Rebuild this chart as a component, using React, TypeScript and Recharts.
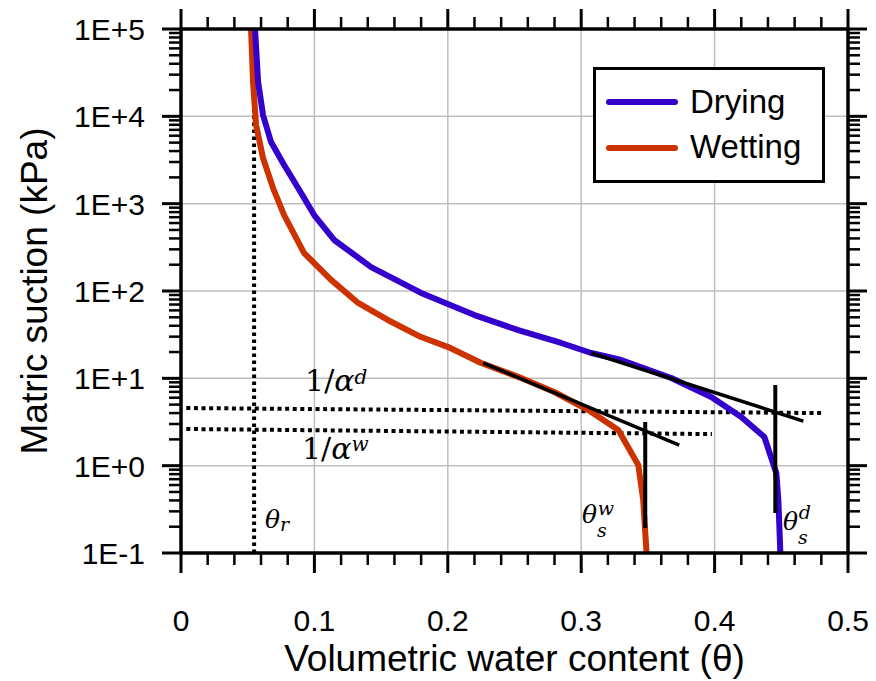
import React from "react";
import {
  ComposedChart,
  Line,
  XAxis,
  YAxis,
  CartesianGrid,
  Legend,
  ReferenceDot,
  Label,
} from "recharts";

// drying branch (theta, suction kPa)
const dryingTheta = [0.0555, 0.0578, 0.0615, 0.0675, 0.0773, 0.0878, 0.0998, 0.1148, 0.1425, 0.18, 0.22, 0.2528, 0.285, 0.3075, 0.33, 0.3675, 0.3975, 0.42, 0.4373, 0.4463, 0.4478, 0.4493];
const dryingSuction = [100000, 24700, 10350, 5080, 2770, 1510, 741, 384, 188, 95, 53, 35.7, 25.4, 19.5, 16.2, 10.1, 6.1, 3.6, 2.13, 0.82, 0.4, 0.1];

// wetting branch
const wettingTheta = [0.0525, 0.054, 0.0563, 0.0615, 0.069, 0.0773, 0.0923, 0.1125, 0.1328, 0.155, 0.18, 0.2003, 0.225, 0.2528, 0.2798, 0.3053, 0.3278, 0.3428, 0.3465, 0.349];
const wettingSuction = [100000, 24700, 7940, 3330, 1510, 741, 272, 134, 73, 46.6, 29.7, 22.8, 15, 10.4, 6.97, 4.34, 2.56, 1.02, 0.4, 0.1];

// construction lines
const wetTangentTheta = [0.2265, 0.3735];
const wetTangentSuction = [15, 1.72];
const dryTangentTheta = [0.3075, 0.4665];
const dryTangentSuction = [19.5, 3.24];
const wetSatTheta = [0.348, 0.348];
const wetSatSuction = [3.16, 0.193];
const drySatTheta = [0.4455, 0.4455];
const drySatSuction = [8.4, 0.287];
const alphaDTheta = [0.004, 0.4815];
const alphaDSuction = [4.57, 4.0];
const alphaWTheta = [0.004, 0.398];
const alphaWSuction = [2.63, 2.3];
const residualTheta = [0.0548, 0.0548];
const residualSuction = [0.1, 100000];

// axes
const thetaTicks = [0, 0.1, 0.2, 0.3, 0.4, 0.5];
const thetaMinorTicks = [0.02, 0.04, 0.06, 0.08, 0.12, 0.14, 0.16, 0.18, 0.22, 0.24, 0.26, 0.28, 0.32, 0.34, 0.36, 0.38, 0.42, 0.44, 0.46, 0.48];
const suctionTicks = [0.1, 1, 10, 100, 1000, 10000, 100000];
const suctionTickLabels = ["1E-1", "1E+0", "1E+1", "1E+2", "1E+3", "1E+4", "1E+5"];
const suctionMinorTicks: number[] = [];
suctionTicks.slice(0, -1).forEach((d) => {
  for (let m = 2; m <= 9; m++) suctionMinorTicks.push(m * d);
});

const seriesNames = ["Drying", "Wetting"];
const DRY = "#3300CC";
const WET = "#CC3300";
const FONT = "'Liberation Sans', Arial, sans-serif";
const MATH = "'DejaVu Serif', serif";

const zip = (xs: number[], ys: number[]) => xs.map((x, i) => ({ x, y: ys[i] }));

const isMajorTheta = (v: number) => Math.abs(v * 10 - Math.round(v * 10)) < 1e-9;
const isMajorSuction = (v: number) => suctionTicks.some((t) => Math.abs(t - v) / t < 1e-9);

const LeftTick = (props: any) => {
  const { x, y, payload } = props;
  const major = isMajorSuction(payload.value);
  const idx = suctionTicks.findIndex((t) => Math.abs(t - payload.value) / t < 1e-9);
  return (
    <g>
      <line x1={x - (major ? 19 : 12)} x2={x} y1={y} y2={y} stroke="#000" strokeWidth={major ? 3 : 2.5} />
      {major && (
        <text x={x - 36} y={y + 11} textAnchor="end" fontSize={30} fontFamily={FONT} fill="#000">
          {suctionTickLabels[idx]}
        </text>
      )}
    </g>
  );
};

const RightTick = (props: any) => {
  const { x, y, payload } = props;
  const major = isMajorSuction(payload.value);
  return <line x1={x} x2={x + (major ? 19 : 12)} y1={y} y2={y} stroke="#000" strokeWidth={major ? 3 : 2.5} />;
};

const BottomTick = (props: any) => {
  const { x, y, payload } = props;
  const major = isMajorTheta(payload.value);
  return (
    <g>
      <line x1={x} x2={x} y1={y} y2={y + (major ? 20 : 12)} stroke="#000" strokeWidth={major ? 3 : 2.5} />
      {major && (
        <text x={x} y={y + 78} textAnchor="middle" fontSize={30} fontFamily={FONT} fill="#000">
          {String(payload.value)}
        </text>
      )}
    </g>
  );
};

const TopTick = (props: any) => {
  const { x, y, payload } = props;
  const major = isMajorTheta(payload.value);
  return <line x1={x} x2={x} y1={y} y2={y - (major ? 20 : 12)} stroke="#000" strokeWidth={major ? 3 : 2.5} />;
};

const MathText = ({ kind, vb }: { kind: string; vb: any }) => {
  const x = vb.x;
  const y = vb.y;
  const common = { fontFamily: MATH, fill: "#000" };
  if (kind === "ad" || kind === "aw") {
    return (
      <text x={x} y={y} fontSize={30} {...common}>
        <tspan>1/</tspan>
        <tspan fontStyle="italic">α</tspan>
        <tspan fontStyle="italic" fontSize={20} dy={kind === "ad" ? -7 : -8}>
          {kind === "ad" ? "d" : "w"}
        </tspan>
      </text>
    );
  }
  if (kind === "r") {
    return (
      <text x={x} y={y} fontSize={25} {...common}>
        <tspan fontStyle="italic">θ</tspan>
        <tspan fontStyle="italic" fontSize={19} dy={3}>r</tspan>
      </text>
    );
  }
  const sup = kind === "sw" ? "w" : "d";
  return (
    <text x={x} y={y} fontSize={25} {...common}>
      <tspan fontStyle="italic">θ</tspan>
      <tspan fontStyle="italic" fontSize={19} dy={14}>s</tspan>
      <tspan fontStyle="italic" fontSize={19} dx={-9} dy={kind === "sw" ? -22 : -25}>
        {sup}
      </tspan>
    </text>
  );
};

const LegendBox = (props: any) => {
  const items = (props.payload || [])
    .filter((p: any) => seriesNames.includes(p.value))
    .sort((a: any, b: any) => seriesNames.indexOf(a.value) - seriesNames.indexOf(b.value));
  return (
    <svg width={232} height={116} style={{ display: "block" }}>
      <rect x={1.5} y={1.5} width={229} height={113} fill="#fff" stroke="#000" strokeWidth={3} />
      {items.map((it: any, i: number) => (
        <g key={it.value}>
          <line x1={16} x2={82} y1={35 + 46 * i} y2={35 + 46 * i} stroke={it.color} strokeWidth={6} strokeLinecap="round" />
          <text x={97} y={46 + 45 * i} fontSize={33} fontFamily={FONT} fill="#000">
            {it.value}
          </text>
        </g>
      ))}
    </svg>
  );
};

const annotations = [
  { kind: "ad", theta: 0.093, suction: 7.16 },
  { kind: "aw", theta: 0.0907, suction: 1.19 },
  { kind: "r", theta: 0.063, suction: 0.193 },
  { kind: "sw", theta: 0.3006, suction: 0.22 },
  { kind: "sd", theta: 0.4513, suction: 0.183 },
];

export default function App() {
  const seg = (key: string, xs: number[], ys: number[], width: number, dash?: string) => (
    <Line
      key={key}
      data={zip(xs, ys)}
      dataKey="y"
      stroke="#000"
      strokeWidth={width}
      strokeDasharray={dash}
      dot={false}
      activeDot={false}
      legendType="none"
      isAnimationActive={false}
    />
  );
  return (
    <div style={{ position: "absolute", left: 0, top: 0, width: 876, height: 681, background: "#fff" }}>
      <ComposedChart width={876} height={681} margin={{ top: 0, right: 0, bottom: 0, left: 0 }}>
        <CartesianGrid
          stroke="#BFBFBF"
          strokeWidth={1.5}
          horizontalValues={[1, 10, 100, 1000, 10000]}
          verticalValues={[0.1, 0.2, 0.3, 0.4]}
        />
        <XAxis
          dataKey="x"
          type="number"
          domain={[0, 0.5]}
          allowDataOverflow
          ticks={[...thetaTicks, ...thetaMinorTicks]}
          interval={0}
          height={128}
          tickSize={0}
          tickMargin={0}
          tick={<BottomTick />}
          axisLine={{ stroke: "#000", strokeWidth: 3.5 }}
        >
          <Label
            value="Volumetric water content (θ)"
            position="insideBottom"
            offset={10}
            style={{ fontSize: 37, fontFamily: FONT, fill: "#000" }}
          />
        </XAxis>
        <XAxis
          xAxisId="top"
          orientation="top"
          dataKey="x"
          type="number"
          domain={[0, 0.5]}
          allowDataOverflow
          ticks={[...thetaTicks, ...thetaMinorTicks]}
          interval={0}
          height={29}
          tickSize={0}
          tickMargin={0}
          tick={<TopTick />}
          axisLine={{ stroke: "#000", strokeWidth: 3.5 }}
        />
        <YAxis
          type="number"
          scale="log"
          domain={[0.1, 100000]}
          allowDataOverflow
          ticks={[...suctionTicks, ...suctionMinorTicks]}
          interval={0}
          width={181}
          tickSize={0}
          tickMargin={0}
          tick={<LeftTick />}
          axisLine={{ stroke: "#000", strokeWidth: 3.5 }}
        >
          <Label
            value="Matric suction (kPa)"
            position="insideLeft"
            angle={-90}
            offset={34}
            style={{ fontSize: 37, fontFamily: FONT, fill: "#000", textAnchor: "middle" }}
          />
        </YAxis>
        <YAxis
          yAxisId="right"
          orientation="right"
          type="number"
          scale="log"
          domain={[0.1, 100000]}
          allowDataOverflow
          ticks={[...suctionTicks, ...suctionMinorTicks]}
          interval={0}
          width={28}
          tickSize={0}
          tickMargin={0}
          tick={<RightTick />}
          axisLine={{ stroke: "#000", strokeWidth: 3.5 }}
        />
        {seg("alphaD", alphaDTheta, alphaDSuction, 4, "4 3.6")}
        {seg("alphaW", alphaWTheta, alphaWSuction, 4, "4 3.6")}
        {seg("residual", residualTheta, residualSuction, 4, "3.5 3.5")}
        <Line
          name="Wetting"
          data={zip(wettingTheta, wettingSuction)}
          dataKey="y"
          stroke={WET}
          strokeWidth={6}
          strokeLinejoin="round"
          dot={false}
          activeDot={false}
          isAnimationActive={false}
        />
        <Line
          name="Drying"
          data={zip(dryingTheta, dryingSuction)}
          dataKey="y"
          stroke={DRY}
          strokeWidth={6}
          strokeLinejoin="round"
          dot={false}
          activeDot={false}
          isAnimationActive={false}
        />
        {seg("wetTangent", wetTangentTheta, wetTangentSuction, 3.5)}
        {seg("dryTangent", dryTangentTheta, dryTangentSuction, 3.5)}
        {seg("wetSat", wetSatTheta, wetSatSuction, 4)}
        {seg("drySat", drySatTheta, drySatSuction, 4)}
        {annotations.map((a) => (
          <ReferenceDot
            key={a.kind}
            x={a.theta}
            y={a.suction}
            r={0}
            fill="none"
            stroke="none"
            label={{ content: (p: any) => <MathText kind={a.kind} vb={p.viewBox} /> }}
          />
        ))}
        <Legend
          layout="vertical"
          align="center"
          verticalAlign="middle"
          wrapperStyle={{ left: 593, top: 67, width: 232, height: 116 }}
          content={<LegendBox />}
        />
      </ComposedChart>
    </div>
  );
}
